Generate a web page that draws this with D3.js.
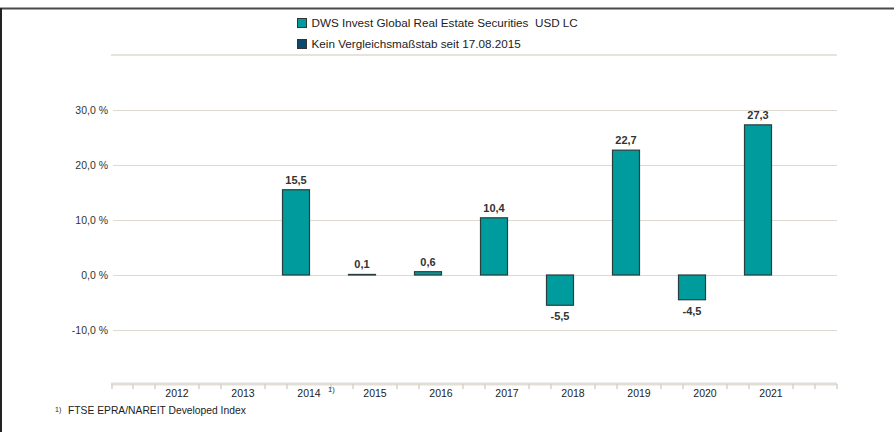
<!DOCTYPE html>
<html><head><meta charset="utf-8">
<script src="https://cdn.jsdelivr.net/npm/d3@7"></script>
<style>
html,body{margin:0;padding:0;background:#fff;}
svg{display:block;font-family:"Liberation Sans",Arial,sans-serif;}
</style></head>
<body>
<svg id="c" width="894" height="432"></svg>
<script>
const categories = ["2012","2013","2014","2015","2016","2017","2018","2019","2020","2021"];
const fundValues = [null,null,15.5,0.1,0.6,10.4,-5.5,22.7,-4.5,27.3];
const benchValues = [null,null,null,null,null,null,null,null,null,null];
const yTicks = [-10,0,10,20,30];
const seriesNames = ["DWS Invest Global Real Estate Securities  USD LC","Kein Vergleichsmaßstab seit 17.08.2015"];
const footnoteCat = "2014";
const footnoteText = "FTSE EPRA/NAREIT Developed Index";

const svg = d3.select("#c");
const fundColor = "#009b9c", benchColor = "#0b4a6a", outline = "#2a3d3d";
const fmt = v => d3.format(".1f")(v).replace(".", ",").replace("−","-");

// frame
svg.append("line").attr("x1",0).attr("x2",894).attr("y1",8.5).attr("y2",8.5).attr("stroke","#4a4a4a").attr("stroke-width",2);
svg.append("line").attr("x1",1).attr("x2",1).attr("y1",8).attr("y2",432).attr("stroke","#222").attr("stroke-width",2);

// legend
const leg = svg.append("g");
seriesNames.forEach((n,i)=>{
  const y = 18 + i*21;
  leg.append("rect").attr("x",297.5).attr("y",y+0.5).attr("width",9).attr("height",9)
    .attr("fill", i===0?fundColor:benchColor).attr("stroke","#333").attr("stroke-width",1);
  leg.append("text").attr("x",311.5).attr("y",y+9).attr("font-size",11.7).attr("fill","#222").attr("xml:space","preserve").text(n);
});
svg.append("line").attr("x1",111).attr("x2",837).attr("y1",55).attr("y2",55).attr("stroke","#e6e3dc").attr("stroke-width",2);

// scales
const y = d3.scaleLinear().domain([-10,30]).range([330,110]);
const x = d3.scaleBand().domain(categories).range([144,804]).paddingInner(0).paddingOuter(0);
const bw = 27;

// grid
const g = svg.append("g");
g.selectAll(".grid").data(yTicks).join("line")
  .attr("x1",113).attr("x2",837).attr("y1",d=>Math.round(y(d))+0.5).attr("y2",d=>Math.round(y(d))+0.5)
  .attr("stroke","#dedad2").attr("stroke-width",1);
g.selectAll(".ylab").data(yTicks).join("text")
  .attr("x",108).attr("y",d=>y(d)+4).attr("text-anchor","end").attr("font-size",10.5).attr("fill","#333")
  .text(d=>fmt(d)+" %");

// x axis
const axY = 384;
svg.append("line").attr("x1",111).attr("x2",837).attr("y1",axY).attr("y2",axY).attr("stroke","#e2ded6").attr("stroke-width",3);
const tickXs = [112, 837];
categories.forEach(c=>{ const s=x(c); tickXs.push(s-11, s+11); });
tickXs.push(x(categories[categories.length-1])+x.bandwidth()-11, x(categories[categories.length-1])+x.bandwidth()+11);
svg.selectAll(".tk").data(tickXs).join("line")
  .attr("x1",d=>d).attr("x2",d=>d).attr("y1",axY).attr("y2",axY+5).attr("stroke","#d6d2ca").attr("stroke-width",1.5);
svg.selectAll(".xl").data(categories).join("text")
  .attr("x",c=>x(c)+x.bandwidth()/2).attr("y",397).attr("text-anchor","middle").attr("font-size",10.5).attr("fill","#222")
  .text(c=>c);
svg.append("text").attr("x",x(footnoteCat)+x.bandwidth()/2+19).attr("y",392).attr("font-size",7.5).attr("fill","#222").text("1)");

// bars
const data = categories.map((c,i)=>({c, v:fundValues[i], b:benchValues[i]}));
const bars = svg.append("g");
bars.selectAll("rect").data(data.filter(d=>d.v!==null)).join("rect")
  .attr("x",d=>x(d.c)+x.bandwidth()/2-bw+0.5)
  .attr("y",d=>Math.min(y(d.v),y(0)))
  .attr("width",bw)
  .attr("height",d=>Math.max(Math.abs(y(d.v)-y(0)),0.5))
  .attr("fill",fundColor).attr("stroke",outline).attr("stroke-width",1.2);
bars.selectAll("text").data(data.filter(d=>d.v!==null)).join("text")
  .attr("x",d=>x(d.c)+x.bandwidth()/2-bw/2+0.5)
  .attr("y",d=>d.v>=0 ? y(d.v)-6 : y(d.v)+15)
  .attr("text-anchor","middle").attr("font-size",11).attr("font-weight","bold").attr("fill","#333")
  .text(d=>fmt(d.v));

// footnote
svg.append("text").attr("x",55).attr("y",412).attr("font-size",7).attr("fill","#222").text("1)");
svg.append("text").attr("x",68).attr("y",414).attr("font-size",10.3).attr("fill","#222").text(footnoteText);
</script>
</body></html>
